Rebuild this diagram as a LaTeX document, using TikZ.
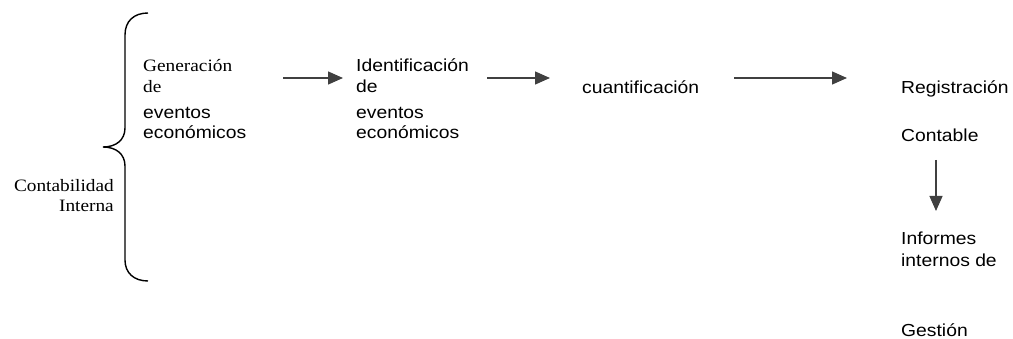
\documentclass[tikz,border=0pt]{standalone}
\usepackage{fontspec}
\usetikzlibrary{arrows.meta}
\newfontfamily\arialf[FakeStretch=1.11]{Liberation Sans}
\newfontfamily\timesf[FakeStretch=1.11]{Liberation Serif}
\tikzset{
  sans/.style={inner sep=0pt, anchor=base west, font=\arialf\fontsize{17.4}{20}\selectfont},
  serif/.style={inner sep=0pt, anchor=base west, font=\timesf\fontsize{17.4}{20}\selectfont},
  serifr/.style={inner sep=0pt, anchor=base east, font=\timesf\fontsize{17.4}{20}\selectfont},
  flow/.style={draw=black!75, line width=1.3pt, -{Triangle[length=15pt,width=13pt]}},
  bracestyle/.style={draw=black, line width=1.4pt}
}
\begin{document}
\begin{tikzpicture}[x=1pt,y=-1pt]
\useasboundingbox (0,0) rectangle (1013,339);
% brace
\draw[bracestyle] (148,13) .. controls (134,13) and (125,21) .. (125,35) -- (125,128)
  .. controls (125,140) and (116,147) .. (103,147)
  .. controls (116,147) and (125,154) .. (125,166) -- (125,260)
  .. controls (125,273) and (134,281) .. (148,281);
% left label
\node[serifr] (cont1) at (114,192) {Contabilidad};
\node[serifr] (cont2) at (114,212) {Interna};
% generacion block
\node[serif] (gen1) at (143,72) {Generación};
\node[serif] (gen2) at (143,93) {de};
\node[sans] (gen3) at (143,118.5) {eventos};
\node[sans] (gen4) at (143,139) {económicos};
% identificacion block
\node[sans] (id1) at (356,72) {Identificación};
\node[sans] (id2) at (356,93) {de};
\node[sans] (id3) at (356,118.5) {eventos};
\node[sans] (id4) at (356,139) {económicos};
% cuantificacion
\node[sans] (cuant) at (582,94) {cuantificación};
% registracion column
\node[sans] (reg1) at (901,94) {Registración};
\node[sans] (reg2) at (901,142) {Contable};
\node[sans] (inf1) at (901,245) {Informes};
\node[sans] (inf2) at (901,267) {internos de};
\node[sans] (inf3) at (901,336.5) {Gestión};
% arrow end points
\coordinate (a1s) at (283,78);
\coordinate (a1e) at (343,78);
\coordinate (a2s) at (487,78);
\coordinate (a2e) at (550,78);
\coordinate (a3s) at (734,78);
\coordinate (a3e) at (847,78);
\coordinate (a4s) at (936,160);
\coordinate (a4e) at (936,211);
\draw[flow] (a1s) -- (a1e);
\draw[flow] (a2s) -- (a2e);
\draw[flow] (a3s) -- (a3e);
\draw[flow] (a4s) -- (a4e);
\end{tikzpicture}
\end{document}
